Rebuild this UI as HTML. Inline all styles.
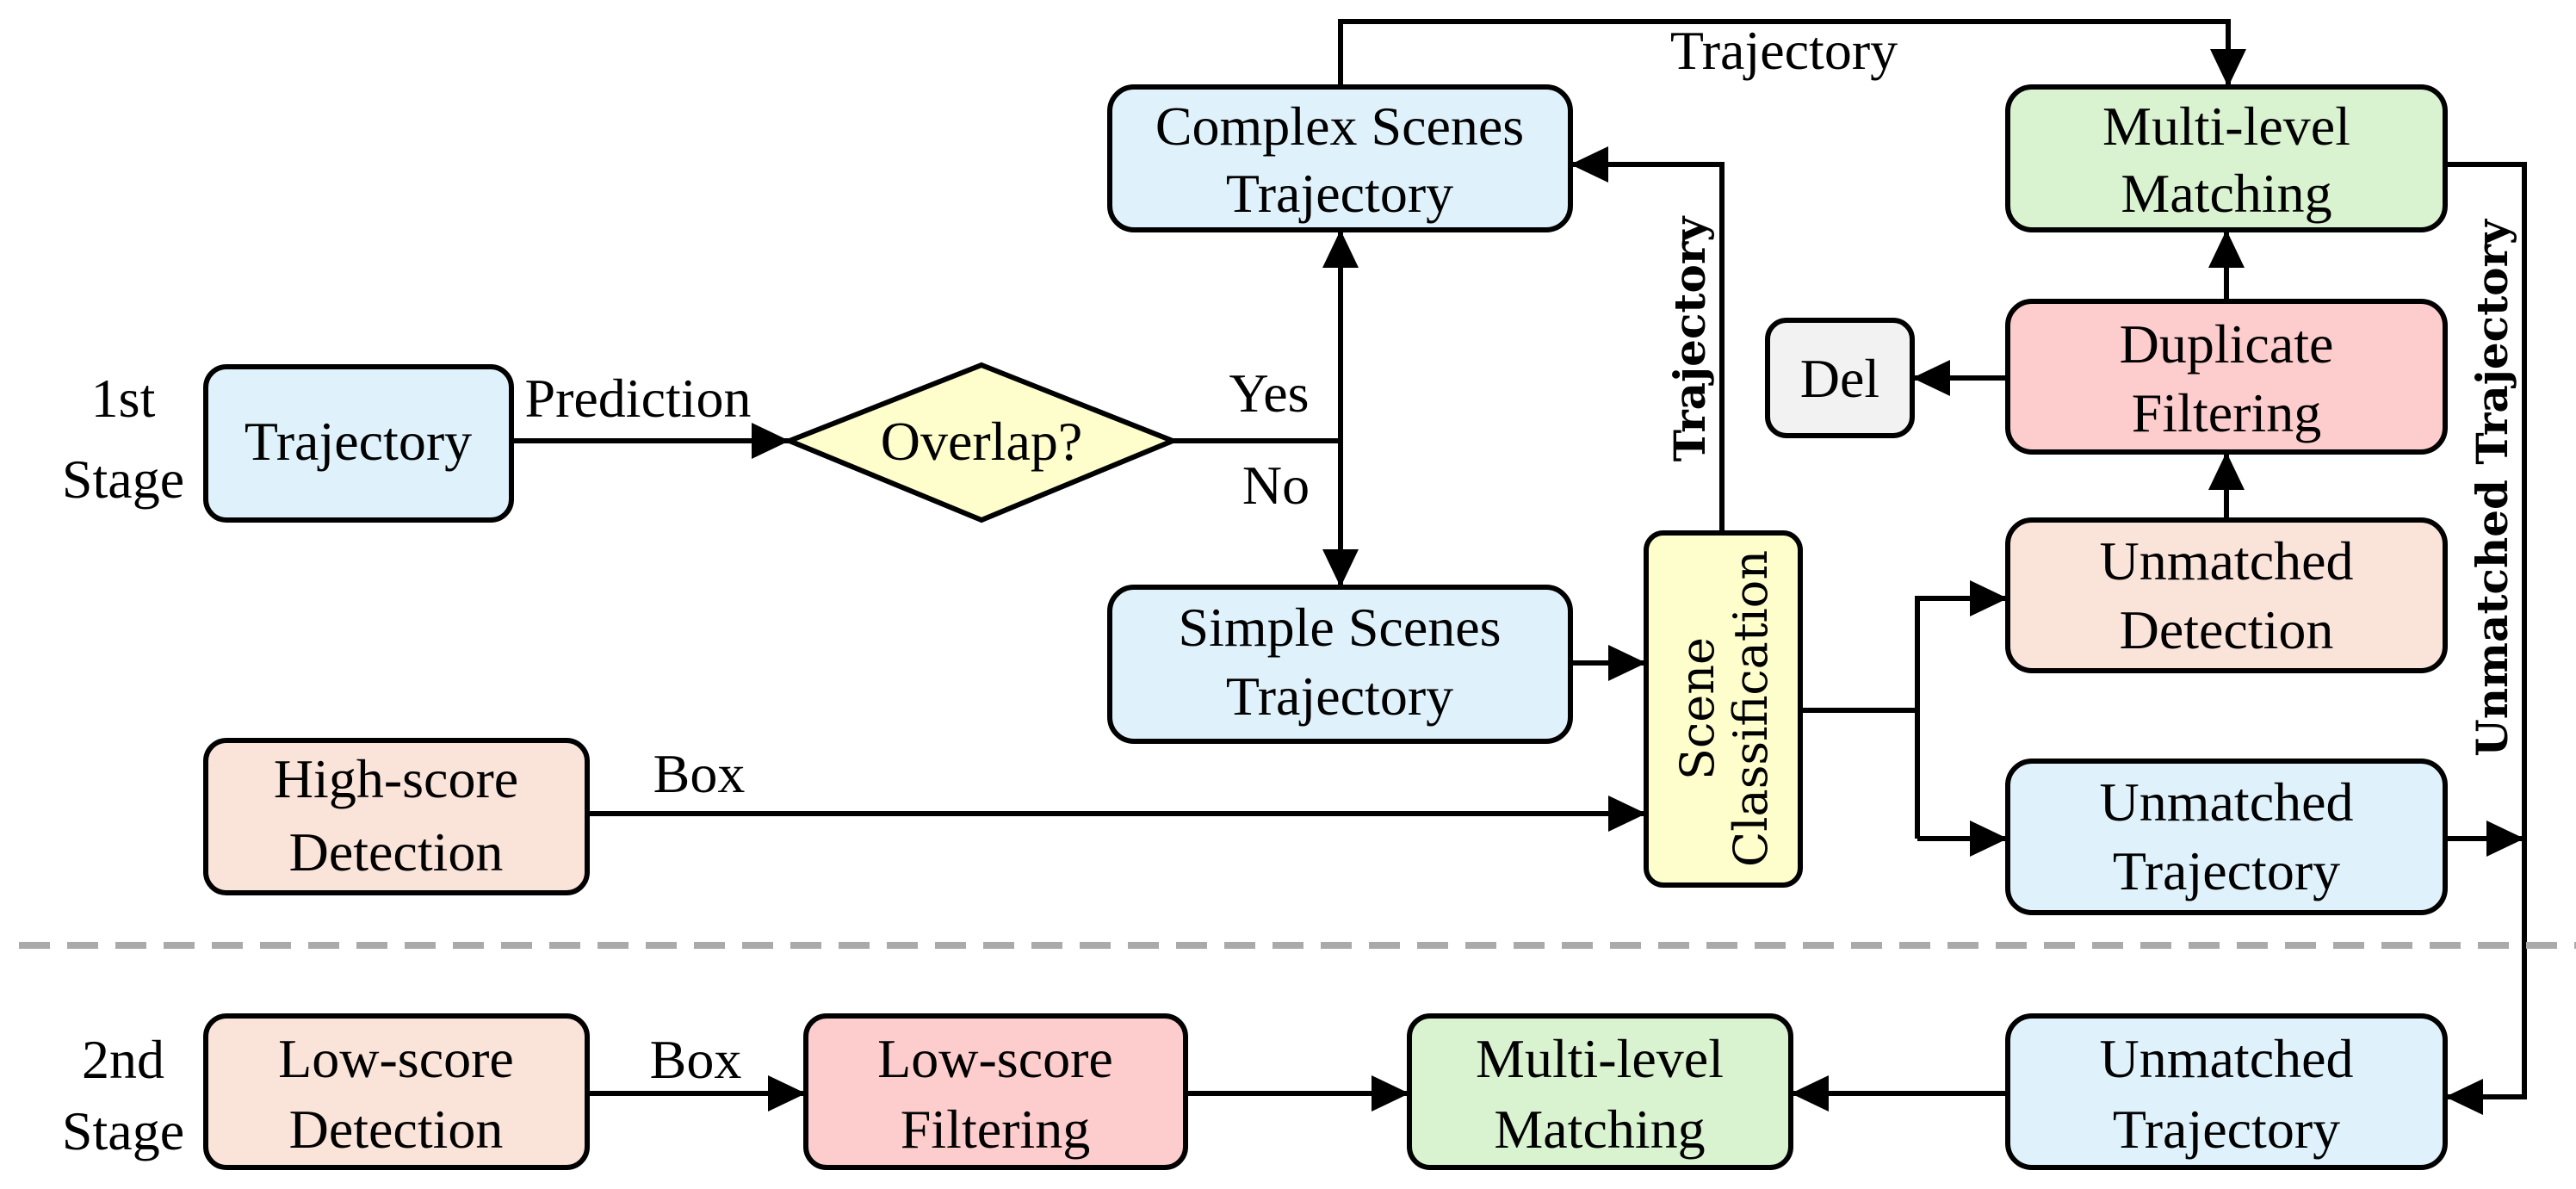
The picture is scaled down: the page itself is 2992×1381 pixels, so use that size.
<!DOCTYPE html>
<html><head><meta charset="utf-8"><style>
html,body{margin:0;padding:0;background:#fff;}
svg{display:block;}
text{font-family:"Liberation Serif",serif;font-size:64px;fill:#000;}
.r{font-family:"DejaVu Serif","Liberation Serif",serif;font-size:50px;font-weight:bold;}
.s{font-family:"DejaVu Serif","Liberation Serif",serif;font-size:54px;}
</style></head><body>
<svg width="2992" height="1381" viewBox="0 0 2992 1381" xmlns="http://www.w3.org/2000/svg">
<defs>
<marker id="a" markerUnits="userSpaceOnUse" markerWidth="44" markerHeight="42" refX="44" refY="21" orient="auto">
<path d="M0,0 L44,21 L0,42 z" fill="#000"/>
</marker>
</defs>
<g stroke="#000" stroke-width="6" fill="none">
<polyline points="1557,101 1557,25 2588,25 2588,101" marker-end="url(#a)"/>
<line x1="594" y1="512" x2="917" y2="512" marker-end="url(#a)"/>
<line x1="1362" y1="512" x2="1557" y2="512"/>
<line x1="1557" y1="512" x2="1557" y2="267" marker-end="url(#a)"/>
<line x1="1557" y1="512" x2="1557" y2="682" marker-end="url(#a)"/>
<polyline points="2000,619 2000,191 1824,191" marker-end="url(#a)"/>
<line x1="1824" y1="770" x2="1912" y2="770" marker-end="url(#a)"/>
<line x1="682" y1="945" x2="1912" y2="945" marker-end="url(#a)"/>
<line x1="2091" y1="825" x2="2227" y2="825"/>
<polyline points="2227,974 2227,695 2332,695" marker-end="url(#a)"/>
<line x1="2227" y1="974" x2="2332" y2="974" marker-end="url(#a)"/>
<line x1="2332" y1="439" x2="2221" y2="439" marker-end="url(#a)"/>
<line x1="2586" y1="604" x2="2586" y2="525" marker-end="url(#a)"/>
<line x1="2586" y1="350" x2="2586" y2="267" marker-end="url(#a)"/>
<polyline points="2840,191 2932,191 2932,1274 2840,1274" marker-end="url(#a)"/>
<line x1="2840" y1="974" x2="2932" y2="974" marker-end="url(#a)"/>
<line x1="682" y1="1270" x2="936" y2="1270" marker-end="url(#a)"/>
<line x1="1377" y1="1270" x2="1637" y2="1270" marker-end="url(#a)"/>
<line x1="2332" y1="1270" x2="2080" y2="1270" marker-end="url(#a)"/>
</g>
<line x1="22" y1="1098" x2="2992" y2="1098" stroke="#aaa" stroke-width="8" stroke-dasharray="36,20"/>
<g stroke="#000" stroke-width="6">
<rect x="239" y="426" width="355" height="178" rx="24" fill="#dff2fb"/>
<polygon points="917,512 1140,424 1362,512 1140,604" fill="#fefdcc"/>
<rect x="1289" y="101" width="535" height="166" rx="28" fill="#dff2fb"/>
<rect x="1289" y="682" width="535" height="179" rx="28" fill="#dff2fb"/>
<rect x="1912" y="619" width="179" height="409" rx="20" fill="#fefdcc"/>
<rect x="239" y="860" width="443" height="177" rx="24" fill="#fae3d9"/>
<rect x="2332" y="101" width="508" height="166" rx="28" fill="#d9f2d0"/>
<rect x="2332" y="350" width="508" height="175" rx="28" fill="#fdcccc"/>
<rect x="2053" y="372" width="168" height="134" rx="22" fill="#f2f2f2"/>
<rect x="2332" y="604" width="508" height="175" rx="28" fill="#fae3d9"/>
<rect x="2332" y="884" width="508" height="176" rx="28" fill="#dff2fb"/>
<rect x="239" y="1180" width="443" height="176" rx="24" fill="#fae3d9"/>
<rect x="936" y="1180" width="441" height="176" rx="24" fill="#fdcccc"/>
<rect x="1637" y="1180" width="443" height="176" rx="24" fill="#d9f2d0"/>
<rect x="2332" y="1180" width="508" height="176" rx="28" fill="#dff2fb"/>
</g>
<g text-anchor="middle">
<text x="143" y="484">1st</text><text x="143" y="578">Stage</text>
<text x="143" y="1252">2nd</text><text x="143" y="1335">Stage</text>
<text x="416" y="534">Trajectory</text>
<text x="741" y="484">Prediction</text>
<text x="1140" y="534" font-size="56">Overlap?</text>
<text x="1474" y="478">Yes</text><text x="1482" y="585">No</text>
<text x="1556" y="168">Complex Scenes</text><text x="1556" y="246">Trajectory</text>
<text x="1556" y="750">Simple Scenes</text><text x="1556" y="830">Trajectory</text>
<text x="2072" y="80">Trajectory</text>
<text x="460" y="926">High-score</text><text x="460" y="1011">Detection</text>
<text x="812" y="920">Box</text>
<text x="2586" y="168">Multi-level</text><text x="2586" y="246">Matching</text>
<text x="2586" y="421">Duplicate</text><text x="2586" y="501">Filtering</text>
<text x="2137" y="461">Del</text>
<text x="2586" y="673">Unmatched</text><text x="2586" y="753">Detection</text>
<text x="2586" y="953">Unmatched</text><text x="2586" y="1033">Trajectory</text>
<text x="460" y="1251">Low-score</text><text x="460" y="1333">Detection</text>
<text x="808" y="1252">Box</text>
<text x="1156" y="1251">Low-score</text><text x="1156" y="1333">Filtering</text>
<text x="1858" y="1251">Multi-level</text><text x="1858" y="1333">Matching</text>
<text x="2586" y="1251">Unmatched</text><text x="2586" y="1333">Trajectory</text>
<text class="r" transform="translate(1980,394) rotate(-90)">Trajectory</text>
<text class="r" transform="translate(2912,567) rotate(-90)">Unmatched Trajectory</text>
<text class="s" transform="translate(1990,823) rotate(-90)">Scene</text>
<text class="s" transform="translate(2052,823) rotate(-90)">Classification</text>
</g>
</svg>
</body></html>
